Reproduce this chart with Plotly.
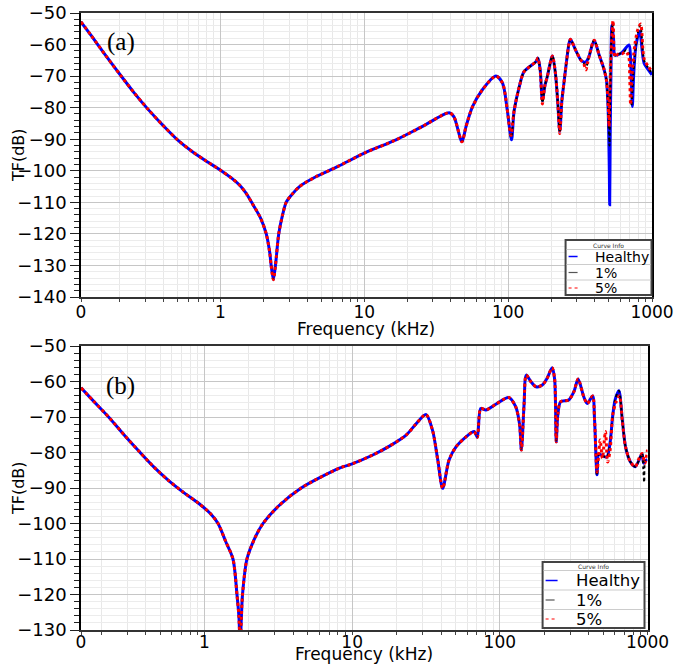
import math
import plotly.graph_objects as go
from plotly.subplots import make_subplots

# ---------------- data (kHz, dB) ----------------
# (a) shared low/mid frequency part
fa_low = [0.107, 0.126, 0.158, 0.2, 0.251, 0.316, 0.398, 0.5, 0.631, 0.794, 1.0, 1.2, 1.355, 1.5,
          1.67, 1.9, 2.08, 2.2, 2.25, 2.33, 2.41, 2.54, 2.7, 2.86, 3.1, 3.54, 4.6, 6.5, 10, 16.6, 25,
          38.9, 42, 47.7, 50.9, 56.5, 66, 82.2, 91.5]
ya_low = [-52.8, -57.1, -63.3, -69.5, -75.3, -80.7, -85.6, -90.1, -93.8, -96.9, -99.8, -102.4,
          -104.5, -107, -110.5, -115, -120, -126, -130, -134.5, -130, -120, -114, -110, -107.8,
          -105, -101.9, -98.7, -94.4, -90.2, -86.1, -81.6, -82.9, -90.8, -86, -79.7, -74.4, -70, -72.3]
# (a) high frequency part, per series
fa_hi_healthy = [98.5, 105.5, 110, 119.5, 129, 156, 161, 167, 173, 180, 187, 203, 213, 221, 228.5,
                 236, 244, 265, 271, 294, 320, 335, 347, 364, 396, 429, 465, 482, 495, 505, 508,
                 512, 518, 526, 540, 554, 619, 692, 710, 730, 745, 775, 820, 881, 944, 1000]
ya_hi_healthy = [-80.7, -90.2, -81, -73.3, -68.6, -65.4, -64.3, -68, -77.8, -73, -70.2, -63.6, -69.1,
                 -78, -87.5, -78, -72.3, -59.6, -58.3, -61.7, -64.9, -65.5, -65.5, -63.9, -58.6,
                 -63.3, -68, -71.2, -80, -100, -110.8, -90, -70, -54, -58, -63.3, -62.5, -60.1,
                 -65, -79.6, -70, -60, -55.8, -65.9, -68, -69.6]
fa_hi_1pct = [98.5, 105, 110, 119.5, 129, 156, 161, 167, 173, 180, 187, 203, 213, 221, 228.5,
              236, 244, 265, 271, 294, 320, 335, 347, 356, 364, 396, 429, 465, 482, 495, 506,
              512, 520, 535, 554, 580, 619, 660, 695, 705, 720, 740, 770, 800, 830, 881, 944, 1000]
ya_hi_1pct = [-80.6, -89.5, -81, -73.3, -68.6, -65.4, -64.3, -68.3, -78.5, -73, -70.2, -63.6, -69,
              -78, -88, -78, -72.3, -59.6, -58.3, -61.7, -64.9, -65.8, -67, -66, -64, -58.6, -63.3,
              -68, -71.2, -80, -92, -75, -60, -53, -63.5, -63, -62.7, -61.8, -63, -68, -79.3,
              -70, -61, -56, -54, -65, -67.5, -69]
fa_hi_5pct = [98.5, 104.5, 110, 119.5, 129, 156, 161, 167, 173, 180, 187, 203, 213, 221, 228.5,
              236, 244, 265, 271, 294, 320, 335, 347, 356, 364, 396, 429, 465, 482, 495, 503,
              508, 520, 536, 554, 580, 619, 660, 690, 700, 710, 725, 760, 800, 834, 881, 944, 1000]
ya_hi_5pct = [-80.5, -88.8, -81, -73.3, -68.6, -65.4, -64.3, -68.5, -78.8, -73, -70.2, -63.6, -69,
              -78, -88.2, -78, -72.3, -59.6, -58.3, -61.7, -64.9, -66, -68, -66, -64, -58.6, -63.3,
              -68, -71.2, -78, -86, -78, -62, -52.4, -63.9, -63, -62.9, -62.3, -64, -70, -79.1,
              -70, -60, -55, -53.5, -64.5, -67, -68.5]

# (b) shared part
fb_low = [0.146, 0.178, 0.229, 0.288, 0.363, 0.457, 0.575, 0.724, 0.912, 1.096, 1.236, 1.39, 1.56,
          1.66, 1.71, 1.745, 1.78, 1.81, 1.94, 2.2, 2.49, 3.19, 4.52, 8.2, 10, 13.8, 17.9, 23.2, 27,
          31.6, 35, 38, 41, 45.3, 50.5, 59, 67, 70.4, 74.3, 80.6, 94, 115, 128, 136, 140, 146, 151,
          162, 176, 194, 209, 226, 235, 241, 247, 258, 293, 318, 339, 370, 391, 425, 438]
yb_low = [-61.8, -65.6, -70.4, -75.2, -79.8, -84.2, -88, -91.3, -94.3, -97.2, -100, -105, -110,
          -120, -126, -134, -126, -120, -110, -104, -100, -95, -90, -84.4, -83.2, -80.7, -78.2,
          -75.1, -72, -69.3, -73.7, -82.1, -90.1, -82.1, -78.4, -75.6, -74.1, -75.7, -67.6, -68,
          -66.4, -64.5, -67.1, -72, -79.3, -66.3, -58.2, -60, -61.5, -61, -59.1, -56.1, -59.3, -77,
          -69.4, -65.7, -65.2, -62.8, -59.3, -64.3, -66.2, -64.1, -70.8]
fb_hi_healthy = [455, 468, 490, 530, 558, 582, 605, 640, 675, 710, 765, 826, 900, 920, 940, 960, 1000]
yb_hi_healthy = [-86.3, -80.4, -80.8, -81.3, -77.2, -69.4, -65, -62.6, -70.8, -78.4, -82.6, -84,
                 -81, -80.5, -83, -82.5, -82]
fb_hi_1pct = [455, 468, 490, 530, 558, 582, 605, 640, 675, 710, 765, 826, 900, 920, 935, 950, 965, 1000]
yb_hi_1pct = [-86.5, -80.4, -80.8, -81.3, -77.2, -69.4, -65, -62.6, -70.8, -78.4, -82.6, -84,
              -81, -80.3, -84, -88.4, -82, -81.5]
fb_hi_5pct = [455, 468, 478, 495, 519, 537, 558, 582, 610, 645, 675, 710, 765, 826, 880, 920, 960, 1000]
yb_hi_5pct = [-85.5, -80, -76.5, -81.6, -74.1, -82.7, -79.4, -69.4, -66, -64, -71, -78.4, -82.6,
              -84, -81.5, -80.3, -83, -79.2]

series_names = ["Healthy", "1%", "5%"]
x_tick_text = ["0", "1", "10", "100", "1000"]

# ---------------- figure geometry (page pixels; body margin removed below) ----------------
W, H = 675, 664
ML, MR, MT, MB = 81, 22.5, 13, 34
PW, PH = W - ML - MR, H - MT - MB


def px(x):  # page pixel -> paper
    return (x - ML) / PW


def py(y):
    return (H - MB - y) / PH


fig = make_subplots(rows=2, cols=1, vertical_spacing=0.08)
fig.update_layout(
    xaxis=dict(domain=[0, 1]), yaxis=dict(domain=[py(297), 1]),
    xaxis2=dict(domain=[0, px(648)]), yaxis2=dict(domain=[0, py(346)]),
)

styles = [
    dict(color="#0000ff", width=3),
    dict(color="#000000", width=2, dash="dot"),
    dict(color="#ff0000", width=3, dash="dot"),
]

a_x = [fa_low + fa_hi_healthy, fa_low + fa_hi_1pct, fa_low + fa_hi_5pct]
a_y = [ya_low + ya_hi_healthy, ya_low + ya_hi_1pct, ya_low + ya_hi_5pct]
b_x = [fb_low + fb_hi_healthy, fb_low + fb_hi_1pct, fb_low + fb_hi_5pct]
b_y = [yb_low + yb_hi_healthy, yb_low + yb_hi_1pct, yb_low + yb_hi_5pct]

for i, name in enumerate(series_names):
    fig.add_trace(go.Scatter(x=a_x[i], y=a_y[i], mode="lines", name=name, showlegend=False,
                             line=dict(shape="spline", smoothing=0.8, **styles[i])), row=1, col=1)
for i, name in enumerate(series_names):
    fig.add_trace(go.Scatter(x=b_x[i], y=b_y[i], mode="lines", name=name, showlegend=False,
                             line=dict(shape="spline", smoothing=0.8, **styles[i])), row=2, col=1)

xtickfont = dict(family="DejaVu Sans", size=17, color="black")
ytickfont = dict(family="DejaVu Sans", size=18, color="black")
titlefont = dict(family="DejaVu Sans", size=17, color="black")


def minor_vals(lo):
    vals = []
    for d in range(-1, 3):
        for k in range(2, 10):
            v = k * 10 ** d
            if v > lo:
                vals.append(v)
    return vals


for idx, (lo, ylo, lstand) in enumerate([(10 ** -0.97, -140, -4), (10 ** -0.836, -130, -7)]):
    xn = "xaxis" if idx == 0 else "xaxis2"
    yn = "yaxis" if idx == 0 else "yaxis2"
    fig.layout[xn].update(
        type="log", range=[math.log10(lo), 3], automargin=False,
        tickmode="array", tickvals=[lo, 1, 10, 100, 1000], ticktext=x_tick_text,
        ticks="outside", ticklen=3, tickcolor="#444", tickfont=xtickfont, ticklabelstandoff=lstand,
        ticklabeloverflow="allow",
        showgrid=True, gridcolor="#c6c6c6", gridwidth=1,
        minor=dict(tickmode="array", tickvals=minor_vals(lo), ticks="outside", ticklen=3,
                   tickcolor="#444", showgrid=True, gridcolor="#e8e8e8", gridwidth=1),
        showline=True, linecolor="#333", linewidth=1.5, mirror=True,
        zeroline=False,
    )
    fig.layout[yn].update(
        range=[ylo, -50], automargin=False, tickmode="linear", tick0=-50, dtick=10,
        ticks="outside", ticklen=9, tickcolor="#222", tickfont=ytickfont, ticklabeloverflow="allow",
        showgrid=True, gridcolor="#c6c6c6", gridwidth=1,
        minor=dict(tickmode="linear", tick0=-50, dtick=2, ticks="outside", ticklen=5, tickcolor="#222",
                   showgrid=True, gridcolor="#ececec", gridwidth=1),
        showline=True, linecolor="black", linewidth=1.5, mirror=True,
        zeroline=False,
    )

fig.update_layout(
    width=W, height=H, margin=dict(l=ML, r=MR, t=MT, b=MB, autoexpand=False),
    plot_bgcolor="white", paper_bgcolor="white", showlegend=False,
)


def note(x, y, text, font, xanchor="center", angle=0):
    fig.add_annotation(x=px(x), y=py(y), xref="paper", yref="paper", text=text, showarrow=False,
                       xanchor=xanchor, yanchor="middle", font=font, borderpad=0, textangle=angle)


# axis titles
note(366.7, 329, "Frequency (kHz)", titlefont)
note(364.5, 654, "Frequency (kHz)", titlefont)
ytitlefont = dict(family="DejaVu Sans", size=16, color="black")
note(18, 155, "TF(dB)", ytitlefont, angle=-90)
note(18, 488, "TF(dB)", ytitlefont, angle=-90)

# panel labels
serif = dict(family="Liberation Serif", size=25, color="black")
note(121, 42, "(a)", serif)
note(121, 386, "(b)", serif)

# "Curve Info" legend boxes
legend_specs = [
    dict(box=(566, 240, 652, 295), title_y=245, seps=[249.5, 264.5, 280], rows=[256.5, 272.5, 288],
         sample=(569, 578), text_x=594, size=14),
    dict(box=(543, 562, 645, 628), title_y=566, seps=[570.5, 590, 609.5], rows=[580.5, 600, 619],
         sample=(546, 558), text_x=575, size=16.5),
]
sample_styles = [
    dict(color="#0000ff", width=1.5),
    dict(color="#555555", width=1.2, dash="dash"),
    dict(color="#ff0000", width=1.2, dash="dot"),
]
for spec in legend_specs:
    x0, y0, x1, y1 = spec["box"]
    fig.add_shape(type="rect", xref="paper", yref="paper", x0=px(x0), x1=px(x1), y0=py(y0), y1=py(y1),
                  line=dict(color="#444", width=2), fillcolor="white", layer="above")
    for s in spec["seps"]:
        fig.add_shape(type="line", xref="paper", yref="paper", x0=px(x0 + 1), x1=px(x1 - 1),
                      y0=py(s), y1=py(s), line=dict(color="#cccccc", width=1), layer="above")
    note((x0 + x1) / 2, spec["title_y"], "Curve Info", dict(family="DejaVu Sans", size=6, color="#333"))
    for ry, name, st in zip(spec["rows"], series_names, sample_styles):
        fig.add_shape(type="line", xref="paper", yref="paper", x0=px(spec["sample"][0]),
                      x1=px(spec["sample"][1]), y0=py(ry), y1=py(ry), line=st, layer="above")
        note(spec["text_x"], ry, name, dict(family="DejaVu Sans", size=spec["size"], color="black"),
             xanchor="left")

fig.write_html("out.html", config={"displayModeBar": False},
               post_script="document.body.style.margin='0';")
